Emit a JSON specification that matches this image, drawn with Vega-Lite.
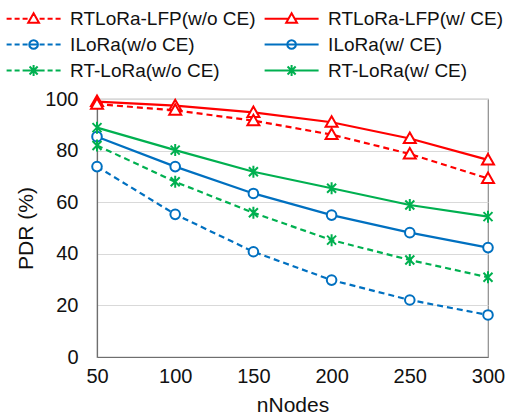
{
  "$schema": "https://vega.github.io/schema/vega-lite/v6.json",
  "autosize": {"type": "none"},
  "width": 391,
  "height": 258,
  "padding": {"left": 97, "top": 99, "right": 18, "bottom": 60},
  "config": {
    "font": "Liberation Sans",
    "view": {"stroke": "#8c8c8c", "strokeWidth": 1.2},
    "axis": {"labelFont": "Liberation Sans", "titleFont": "Liberation Sans", "labelColor": "#111", "titleColor": "#111", "titleFontWeight": "normal"},
    "legend": {"labelFont": "Liberation Sans"}
  },
  "data": {
    "values": [
      {"series": "RTLoRa-LFP(w/ CE)", "nodes": 50, "pdr": 99},
      {"series": "RTLoRa-LFP(w/ CE)", "nodes": 100, "pdr": 97.4},
      {"series": "RTLoRa-LFP(w/ CE)", "nodes": 150, "pdr": 94.8},
      {"series": "RTLoRa-LFP(w/ CE)", "nodes": 200, "pdr": 91},
      {"series": "RTLoRa-LFP(w/ CE)", "nodes": 250, "pdr": 84.7},
      {"series": "RTLoRa-LFP(w/ CE)", "nodes": 300, "pdr": 76.4},
      {"series": "RTLoRa-LFP(w/o CE)", "nodes": 50, "pdr": 98},
      {"series": "RTLoRa-LFP(w/o CE)", "nodes": 100, "pdr": 95.6},
      {"series": "RTLoRa-LFP(w/o CE)", "nodes": 150, "pdr": 91.6},
      {"series": "RTLoRa-LFP(w/o CE)", "nodes": 200, "pdr": 86.2},
      {"series": "RTLoRa-LFP(w/o CE)", "nodes": 250, "pdr": 78.7},
      {"series": "RTLoRa-LFP(w/o CE)", "nodes": 300, "pdr": 69.2},
      {"series": "ILoRa(w/ CE)", "nodes": 50, "pdr": 85.4},
      {"series": "ILoRa(w/ CE)", "nodes": 100, "pdr": 73.8},
      {"series": "ILoRa(w/ CE)", "nodes": 150, "pdr": 63.4},
      {"series": "ILoRa(w/ CE)", "nodes": 200, "pdr": 55},
      {"series": "ILoRa(w/ CE)", "nodes": 250, "pdr": 48.2},
      {"series": "ILoRa(w/ CE)", "nodes": 300, "pdr": 42.4},
      {"series": "ILoRa(w/o CE)", "nodes": 50, "pdr": 73.8},
      {"series": "ILoRa(w/o CE)", "nodes": 100, "pdr": 55.3},
      {"series": "ILoRa(w/o CE)", "nodes": 150, "pdr": 40.8},
      {"series": "ILoRa(w/o CE)", "nodes": 200, "pdr": 29.8},
      {"series": "ILoRa(w/o CE)", "nodes": 250, "pdr": 22.1},
      {"series": "ILoRa(w/o CE)", "nodes": 300, "pdr": 16.3},
      {"series": "RT-LoRa(w/ CE)", "nodes": 50, "pdr": 88.9},
      {"series": "RT-LoRa(w/ CE)", "nodes": 100, "pdr": 80.2},
      {"series": "RT-LoRa(w/ CE)", "nodes": 150, "pdr": 71.8},
      {"series": "RT-LoRa(w/ CE)", "nodes": 200, "pdr": 65.4},
      {"series": "RT-LoRa(w/ CE)", "nodes": 250, "pdr": 58.9},
      {"series": "RT-LoRa(w/ CE)", "nodes": 300, "pdr": 54.4},
      {"series": "RT-LoRa(w/o CE)", "nodes": 50, "pdr": 82},
      {"series": "RT-LoRa(w/o CE)", "nodes": 100, "pdr": 67.9},
      {"series": "RT-LoRa(w/o CE)", "nodes": 150, "pdr": 55.9},
      {"series": "RT-LoRa(w/o CE)", "nodes": 200, "pdr": 45.3},
      {"series": "RT-LoRa(w/o CE)", "nodes": 250, "pdr": 37.6},
      {"series": "RT-LoRa(w/o CE)", "nodes": 300, "pdr": 30.9}
    ]
  },
  "encoding": {
    "x": {
      "field": "nodes", "type": "quantitative",
      "scale": {"domain": [50, 300], "nice": false, "zero": false},
      "axis": {"values": [50, 100, 150, 200, 250, 300], "grid": false, "ticks": false, "domainColor": "#6e6e6e", "domainWidth": 1.2, "labelFontSize": 20, "labelPadding": 9, "title": "nNodes", "titleFontSize": 21, "titlePadding": 8, "labelFlush": false}
    },
    "y": {
      "field": "pdr", "type": "quantitative",
      "scale": {"domain": [0, 100], "nice": false},
      "axis": {"values": [0, 20, 40, 60, 80, 100], "grid": true, "gridColor": "#d9d9d9", "gridWidth": 1, "ticks": false, "domainColor": "#6e6e6e", "domainWidth": 1.2, "labelFontSize": 20, "labelPadding": 19, "title": "PDR (%)", "titleFontSize": 21, "titlePadding": 8, "labelFlush": false}
    },
    "color": {
      "field": "series", "type": "nominal",
      "scale": {
        "domain": ["RTLoRa-LFP(w/o CE)", "RTLoRa-LFP(w/ CE)", "ILoRa(w/o CE)", "ILoRa(w/ CE)", "RT-LoRa(w/o CE)", "RT-LoRa(w/ CE)"],
        "range": ["#FF0000", "#FF0000", "#0070C0", "#0070C0", "#00B050", "#00B050"]
      },
      "legend": {
        "orient": "none", "legendX": -89, "legendY": -90, "columns": 2, "direction": "horizontal", "title": null,
        "symbolSize": 116.6, "symbolStrokeWidth": 2, "symbolFillColor": "transparent",
        "symbolOffset": 16.1, "labelOffset": 27, "labelFontSize": 19, "labelColor": "#111",
        "columnPadding": 4, "rowPadding": 6, "labelLimit": 400
      }
    }
  },
  "layer": [
    {
      "transform": [{"filter": "indexof(datum.series, 'w/o') >= 0"}],
      "mark": {"type": "line", "strokeWidth": 2.2, "strokeDash": [6, 4]}
    },
    {
      "transform": [{"filter": "indexof(datum.series, 'w/o') < 0"}],
      "mark": {"type": "line", "strokeWidth": 2.2}
    },
    {
      "transform": [{"filter": "indexof(datum.series, 'RTLoRa-LFP') >= 0"}],
      "mark": {"type": "point", "shape": "M0,-1L1,0.75L-1,0.75Z", "filled": false, "fill": "white", "fillOpacity": 1, "opacity": 1, "strokeWidth": 2, "size": 144}
    },
    {
      "transform": [{"filter": "indexof(datum.series, 'ILoRa') >= 0"}],
      "mark": {"type": "point", "shape": "M0.8,0A0.8,0.8 0 1,1 -0.8,0A0.8,0.8 0 1,1 0.8,0Z", "filled": false, "fill": "white", "fillOpacity": 1, "opacity": 1, "strokeWidth": 2, "size": 144}
    },
    {
      "transform": [{"filter": "indexof(datum.series, 'RT-LoRa') >= 0"}],
      "mark": {"type": "point", "shape": "M-0.75,-0.75L0.75,0.75M-0.75,0.75L0.75,-0.75M0,-1L0,1", "filled": false, "opacity": 1, "strokeWidth": 2, "size": 144}
    },
    {
      "transform": [{"filter": "datum.nodes < 0"}],
      "mark": {"type": "point", "filled": false, "opacity": 1, "strokeWidth": 2},
      "encoding": {
        "shape": {
          "field": "series", "type": "nominal",
          "scale": {
            "domain": ["RTLoRa-LFP(w/o CE)", "RTLoRa-LFP(w/ CE)", "ILoRa(w/o CE)", "ILoRa(w/ CE)", "RT-LoRa(w/o CE)", "RT-LoRa(w/ CE)"],
            "range": [
              "M-5,0L-4.07,0M-3.52,0L-2.59,0M-2.04,0L-1.11,0M1.11,0L2.04,0M2.59,0L3.52,0M4.07,0L5,0M0,-1L1,0.75L-1,0.75Z",
              "M-5,0L-0.57,0M0.57,0L5,0M0,-1L1,0.75L-1,0.75Z",
              "M-5,0L-4.07,0M-3.52,0L-2.59,0M-2.04,0L-1.11,0M1.11,0L2.04,0M2.59,0L3.52,0M4.07,0L5,0M-0.8,0L0.8,0M0.8,0A0.8,0.8 0 1,1 -0.8,0A0.8,0.8 0 1,1 0.8,0Z",
              "M-5,0L5,0M0.8,0A0.8,0.8 0 1,1 -0.8,0A0.8,0.8 0 1,1 0.8,0Z",
              "M-5,0L-4.07,0M-3.52,0L-2.59,0M-2.04,0L-1.11,0M1.11,0L2.04,0M2.59,0L3.52,0M4.07,0L5,0M-1.11,0L1.11,0M-0.75,-0.75L0.75,0.75M-0.75,0.75L0.75,-0.75M0,-1L0,1",
              "M-5,0L5,0M-0.75,-0.75L0.75,0.75M-0.75,0.75L0.75,-0.75M0,-1L0,1"
            ]
          },
          "legend": {
            "orient": "none", "legendX": -89, "legendY": -90, "columns": 2, "direction": "horizontal", "title": null,
            "symbolSize": 116.6, "symbolStrokeWidth": 2, "symbolFillColor": "transparent",
            "symbolOffset": 16.1, "labelOffset": 27, "labelFontSize": 19, "labelColor": "#111",
            "columnPadding": 4, "rowPadding": 6, "labelLimit": 400
          }
        }
      }
    }
  ]
}
